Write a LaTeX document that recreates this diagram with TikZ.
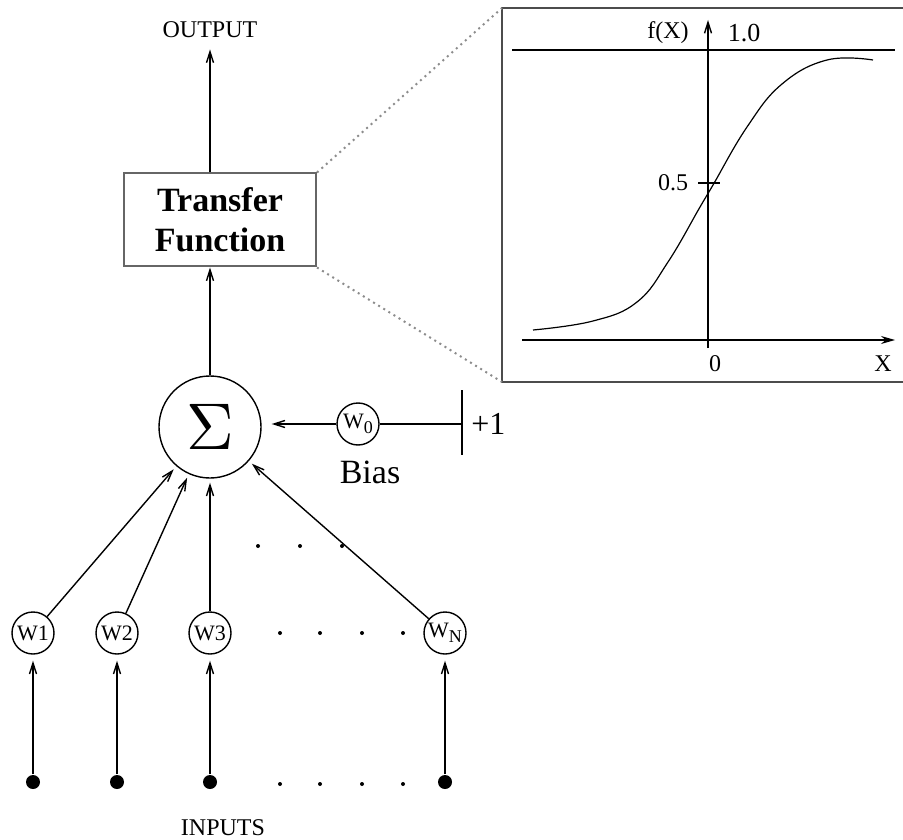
\documentclass[tikz,border=0pt]{standalone}
\usepackage{fontspec}
\setmainfont{Liberation Serif}
\usepackage{graphicx}
\usetikzlibrary{arrows.meta, positioning}

\newcommand{\wsub}[1]{\raisebox{-0.45ex}{\fontsize{9}{9}\selectfont #1}}

\begin{document}
\begin{tikzpicture}[x=0.5pt, y=-0.5pt, line width=0.7pt,
    arr/.style={-{Straight Barb[length=5.5pt, width=3.5pt]}},
    wnode/.style={draw, circle, minimum size=21pt, inner sep=0pt, font=\fontsize{11}{12}\selectfont},
    innode/.style={circle, fill, minimum size=7pt, inner sep=0pt},
    lbl/.style={font=\fontsize{12}{14}\selectfont},
    big/.style={font=\fontsize{17}{20}\selectfont},
    zoomline/.style={draw=black!45, dotted, line width=1pt}]
    \useasboundingbox (0,0) rectangle (903,839);

    % the neuron
    \node[lbl] (out) at (210,30) {OUTPUT};
    \node[draw=black!60, line width=1pt, minimum width=96pt, minimum height=46.5pt,
        align=center, font=\fontsize{17}{20}\selectfont\bfseries] (tf) at (220,220) {Transfer\\Function};
    \node[draw, circle, minimum size=51pt, inner sep=0pt] (sum) at (210,427) {\scalebox{3.3}{$\Sigma$}};
    \draw[arr] (sum) -- (sum |- tf.south);
    \draw[arr, shorten >=2pt] (sum |- tf.north) -- (out);

    % weights and inputs
    \foreach \i/\x in {1/33, 2/117, 3/210} {
        \node[wnode] (w\i) at (\x,633) {W\i};
        \node[innode] (x\i) at (\x,782) {};
        \draw[arr, shorten >=3pt] (x\i) -- (w\i);
        \draw[arr, shorten >=2pt] (w\i) -- (sum);
    }
    \node[wnode] (wn) at (445,633) {W\wsub{N}};
    \node[innode] (xn) at (445,782) {};
    \draw[arr, shorten >=3pt] (xn) -- (wn);
    \draw[arr, shorten >=2pt] (wn) -- (sum);
    \foreach \x in {280,320,362,403} {
        \fill (\x,633) circle (1pt);
        \fill (\x,784) circle (1pt);
    }
    \foreach \x in {258,300,342}
        \fill (\x,546) circle (1pt);
    \node[lbl] (inputs) at (223,828) {INPUTS};

    % bias
    \node[wnode] (w0) at (358,424) {W\wsub{0}};
    \coordinate (one) at (462,424);
    \draw (w0) -- (one);
    \draw (one) ++(0,-34) -- ++(0,65);
    \node[font=\fontsize{16}{18}\selectfont, right=1pt of one] (plus) {+1};
    \draw[arr, shorten >=5pt] (w0) -- (sum.east |- w0);
    \node[big] (bias) at (370,472) {Bias};

    % transfer function plot
    \coordinate (pnw) at (502,8);
    \coordinate (psw) at (502,382);
    \draw[black!70, line width=1pt] (908,8) -- (pnw) -- (psw) -- (908,382);
    \draw[zoomline] (tf.north east) -- (pnw);
    \draw[zoomline] (tf.south east) -- (psw);
    \draw (512,50) -- (895,50);
    \draw[-{Stealth[length=7pt, width=4pt]}] (522,340) -- (895,340);
    \draw[arr] (708,348) -- (708,20);
    \draw (698,183) -- (720,183);
    \draw[line width=0.6pt] plot[smooth, tension=0.7] coordinates {(533,330) (593,321) (637,302) (668,262)
        (700,207) (713,185) (747,127) (782,84) (827,60) (873,60)};
    \node[lbl] (fx) at (668,33) {f(X)};
    \node[font=\fontsize{13}{15}\selectfont] (ymax) at (744,33) {1.0};
    \node[lbl] (yhalf) at (673,183) {0.5};
    \node[lbl] (xzero) at (715,364) {0};
    \node[lbl] (xlbl) at (883,364) {X};
\end{tikzpicture}
\end{document}
